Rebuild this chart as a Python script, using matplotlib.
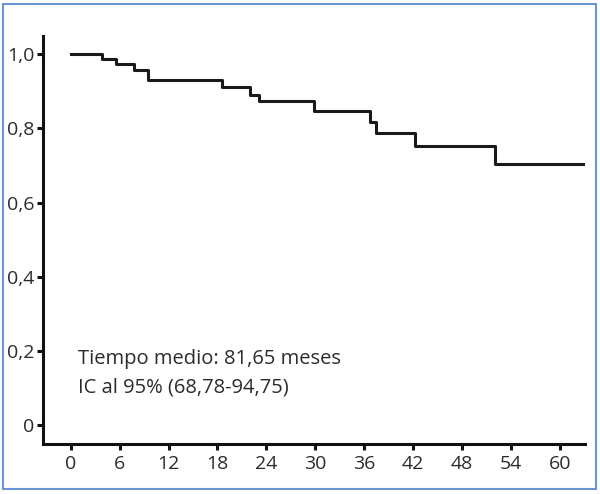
import matplotlib.pyplot as plt
from matplotlib.patches import Rectangle

# Kaplan-Meier style step data (months, survival)
months = [0, 3.8, 5.6, 7.8, 9.5, 18.5, 22.0, 23.1, 29.8, 36.7, 37.4, 42.3, 52.1, 63.1]
survival = [1.0, 0.988, 0.973, 0.958, 0.930, 0.912, 0.891, 0.873, 0.846, 0.817, 0.788, 0.752, 0.705, 0.705]

x_ticks = [0, 6, 12, 18, 24, 30, 36, 42, 48, 54, 60]
y_ticks = [0, 0.2, 0.4, 0.6, 0.8, 1.0]
y_tick_labels = ["0", "0,2", "0,4", "0,6", "0,8", "1,0"]
note_lines = ["Tiempo medio: 81,65 meses", "IC al 95% (68,78-94,75)"]

plt.rcParams["font.family"] = ["Open Sans", "DejaVu Sans"]
text_color = "#2b2b2b"

fig = plt.figure(figsize=(6, 4.94), dpi=100)
ax = fig.add_axes([0.0717, 0.1012, 0.9033, 0.8258])

ax.step(months, survival, where="post", color="#1a1a1a", linewidth=2.2)

ax.set_xlim(-3.4, 63.1)
ax.set_ylim(-0.05, 1.049)
ax.set_xticks(x_ticks)
ax.set_yticks(y_ticks)
ax.set_yticklabels(y_tick_labels)

for side in ["top", "right"]:
    ax.spines[side].set_visible(False)
for side in ["left", "bottom"]:
    ax.spines[side].set_linewidth(2.2)
    ax.spines[side].set_color("#111111")

ax.tick_params(axis="both", direction="out", length=4, width=2.2, color="#111111",
               labelsize=14, labelcolor=text_color)
ax.tick_params(axis="x", pad=4)
ax.tick_params(axis="y", pad=2)

ax.text(0.85, 0.180, note_lines[0], ha="left", va="center", fontsize=14.5, color=text_color)
ax.text(0.85, 0.102, note_lines[1], ha="left", va="center", fontsize=14.5, color=text_color)

# light blue frame around the figure
fig.patches.append(Rectangle((0.005, 0.01), 0.988, 0.982, transform=fig.transFigure,
                             fill=False, edgecolor="#6a94d4", linewidth=1.5))

fig.savefig("out.png", dpi=100)
